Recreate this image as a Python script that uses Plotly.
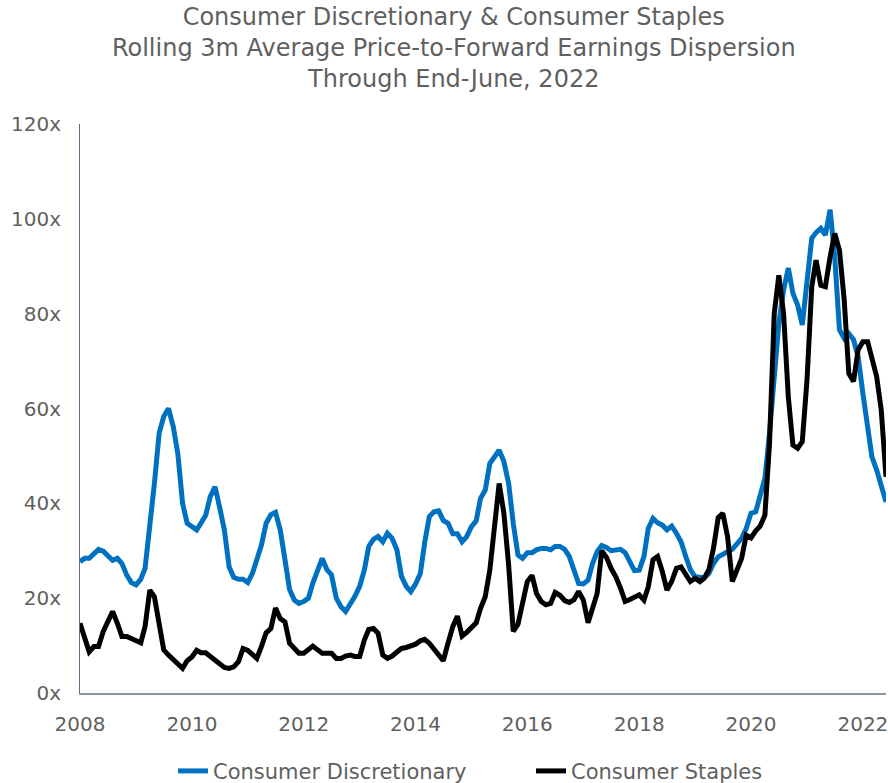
import pandas as pd
import plotly.graph_objects as go

# Monthly observations, Jan 2008 - Jun 2022
months = pd.date_range("2008-01-01", periods=174, freq="MS")

# Rolling 3m average price-to-forward earnings dispersion (x)
discretionary = [
    27.7, 28.4, 28.4, 29.4, 30.3, 29.9, 28.9, 28.0, 28.4, 27.3, 24.9, 23.3,  # 2008
    22.8, 24.0, 26.3, 34.4, 44.2, 54.8, 58.3, 60.0, 56.2, 50.5, 40.0, 35.8,  # 2009
    35.0, 34.4, 35.8, 37.5, 41.4, 43.5, 39.2, 34.4, 26.6, 24.4, 24.0, 24.0,  # 2010
    23.3, 25.3, 28.1, 31.3, 35.8, 37.6, 38.1, 34.4, 28.1, 21.8, 19.6, 18.9,  # 2011
    19.3, 20.0, 23.2, 26.0, 28.4, 26.0, 24.9, 20.0, 18.2, 17.2, 18.6, 20.4,  # 2012
    22.5, 26.0, 30.9, 32.4, 33.0, 31.9, 33.7, 32.6, 30.2, 24.6, 22.5, 21.4,  # 2013
    23.0, 25.2, 31.6, 37.2, 38.2, 38.4, 36.4, 35.8, 33.6, 33.6, 31.9, 33.0,  # 2014
    35.1, 36.3, 41.0, 42.8, 48.4, 49.8, 51.2, 48.8, 44.2, 35.8, 29.1, 28.4,  # 2015
    29.6, 29.6, 30.2, 30.5, 30.5, 30.2, 30.9, 30.9, 30.3, 28.8, 26.0, 23.1,  # 2016
    23.0, 23.8, 27.2, 29.8, 31.1, 30.7, 30.0, 30.2, 30.3, 29.6, 27.5, 25.8,  # 2017
    25.9, 28.8, 34.7, 36.8, 35.9, 35.4, 34.4, 35.2, 33.7, 31.9, 28.8, 26.0,  # 2018
    24.5, 24.3, 24.3, 25.2, 27.3, 28.7, 29.4, 29.8, 30.3, 31.6, 32.6, 34.7,  # 2019
    37.9, 38.2, 41.4, 45.3, 54.8, 67.4, 78.0, 85.0, 89.6, 84.3, 81.8, 77.6,  # 2020
    85.7, 95.9, 97.1, 98.0, 96.6, 101.9, 92.0, 76.6, 74.8, 75.8, 74.5, 70.9,  # 2021
    63.2, 55.5, 49.8, 47.0, 43.5, 40.3,                                      # 2022
]

staples = [
    14.7, 11.2, 8.7, 9.8, 9.8, 13.0, 15.4, 17.2, 14.7, 11.9, 11.9, 11.5,     # 2008
    11.0, 10.6, 14.0, 21.7, 20.3, 14.7, 9.1, 8.0, 7.0, 6.1, 5.2, 6.8,        # 2009
    7.6, 9.0, 8.5, 8.5, 7.8, 7.1, 6.2, 5.4, 5.2, 5.5, 6.6, 9.4,              # 2010
    9.0, 8.2, 7.3, 9.9, 12.7, 13.6, 17.9, 15.7, 15.0, 10.5, 9.4, 8.4,        # 2011
    8.4, 9.2, 9.9, 9.1, 8.4, 8.4, 8.4, 7.3, 7.3, 7.8, 8.0, 7.7,              # 2012
    7.7, 11.2, 13.4, 13.6, 12.6, 8.0, 7.3, 7.8, 8.7, 9.4, 9.6, 9.9,          # 2013
    10.3, 11.0, 11.3, 10.5, 9.2, 7.7, 6.8, 10.5, 14.0, 16.2, 12.0, 12.8,     # 2014
    14.0, 14.8, 17.8, 20.3, 25.9, 34.4, 44.2, 37.9, 27.0, 13.0, 14.5, 19.0,  # 2015
    23.5, 24.8, 21.0, 19.3, 18.6, 18.9, 21.2, 20.6, 19.5, 19.1, 19.7, 21.4,  # 2016
    19.6, 14.8, 17.5, 21.0, 30.0, 28.6, 26.3, 24.5, 22.1, 19.3, 19.7, 20.3,  # 2017
    20.7, 19.6, 22.4, 28.1, 28.8, 25.6, 21.7, 23.5, 26.3, 26.6, 25.2, 23.5,  # 2018
    24.2, 23.5, 24.2, 26.0, 30.5, 37.0, 37.9, 33.0, 23.5, 25.8, 28.4, 33.3,  # 2019
    32.7, 34.2, 35.2, 37.5, 52.6, 80.0, 88.1, 80.0, 62.4, 52.3, 51.6, 53.0,  # 2020
    66.0, 85.7, 91.3, 86.0, 85.7, 92.0, 96.9, 93.4, 82.9, 67.4, 65.7, 72.4,  # 2021
    74.1, 74.1, 70.6, 66.7, 59.7, 45.6,                                      # 2022
]

year_ticks = [2008, 2010, 2012, 2014, 2016, 2018, 2020, 2022]
multiple_ticks = [0, 20, 40, 60, 80, 100, 120]

title_lines = [
    "Consumer Discretionary & Consumer Staples",
    "Rolling 3m Average Price-to-Forward Earnings Dispersion",
    "Through End-June, 2022",
]

FONT = "DejaVu Sans"
TEXT_GREY = "#5f5f5f"

fig = go.Figure()
fig.add_trace(go.Scatter(
    x=months, y=discretionary, mode="lines", name="Consumer Discretionary",
    line=dict(color="#0070C0", width=5),
))
fig.add_trace(go.Scatter(
    x=months, y=staples, mode="lines", name="Consumer Staples",
    line=dict(color="#000000", width=5),
))

fig.update_layout(
    width=888, height=783,
    margin=dict(l=80, r=0, t=124, b=90),
    paper_bgcolor="white", plot_bgcolor="white",
    font=dict(family=FONT, color=TEXT_GREY, size=20),
    title=dict(
        text="<br>".join(title_lines),
        x=0.511, xanchor="center", xref="container",
        y=0.968, yanchor="middle", yref="container",
        font=dict(family=FONT, size=24, color=TEXT_GREY),
    ),
    legend=dict(
        orientation="h",
        xref="container", x=173 / 888, xanchor="left",
        yref="container", y=0.015, yanchor="middle",
        entrywidthmode="pixels", entrywidth=313,
        font=dict(family=FONT, size=21, color=TEXT_GREY),
    ),
    showlegend=True,
)

# transparent tick marks give the gap between axis lines and labels
fig.update_xaxes(
    type="date",
    range=[months[0], months[-1]],
    tickvals=[pd.Timestamp(f"{y}-01-01") for y in year_ticks],
    ticktext=[str(y) for y in year_ticks],
    showgrid=False, zeroline=False,
    ticks="outside", ticklen=12, tickcolor="rgba(0,0,0,0)",
    ticklabeloverflow="allow",
    showline=True, linecolor="#8B97A8", linewidth=2,
    tickfont=dict(size=20),
)
fig.update_yaxes(
    range=[0, 120],
    tickvals=multiple_ticks,
    ticktext=[f"{v}x" for v in multiple_ticks],
    showgrid=False, zeroline=False,
    ticks="outside", ticklen=14, tickcolor="rgba(0,0,0,0)",
    showline=True, linecolor="#5A6A82", linewidth=1,
    tickfont=dict(size=20),
)

fig.write_html("out.html")
